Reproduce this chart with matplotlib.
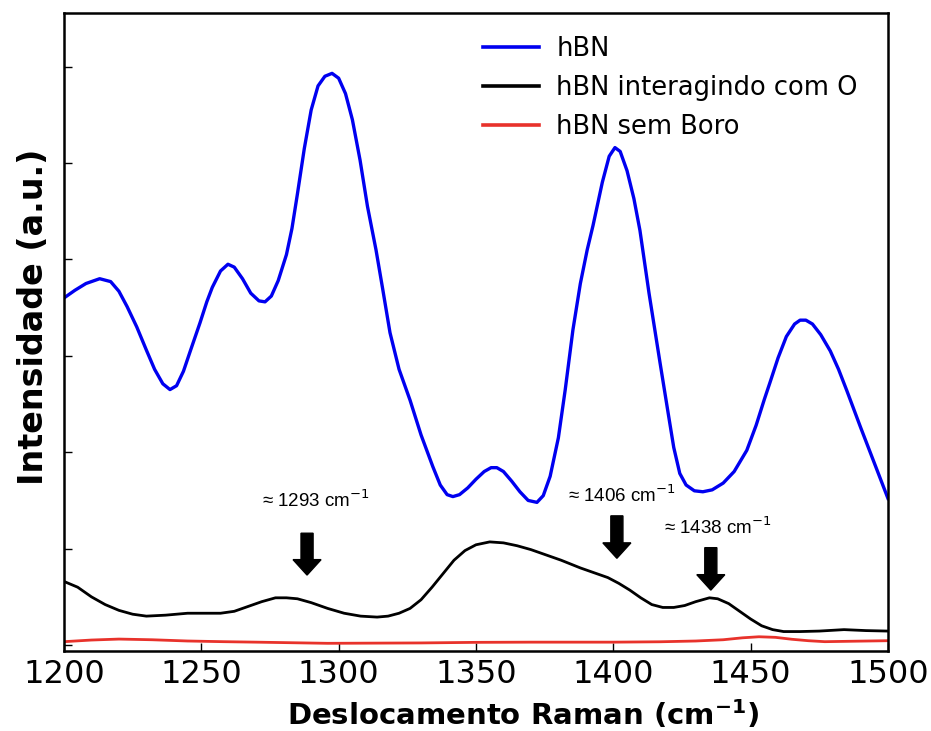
import matplotlib
matplotlib.use('Agg')
import matplotlib.pyplot as plt

# hBN (blue)
hbn_x = [1200, 1204, 1208, 1213, 1217, 1220, 1223, 1226.5, 1230, 1233, 1236, 1238.6, 1241, 1243.5,
         1246, 1249.5, 1252, 1254, 1257, 1259.7, 1262, 1265, 1268, 1271, 1273.2, 1275.5, 1278, 1281,
         1283, 1285, 1287.5, 1290, 1292.5, 1295, 1297.6, 1300, 1302.5, 1305, 1307.8, 1310.5,
         1313.6, 1316, 1318.7, 1322, 1326, 1330, 1334.3, 1337, 1339.5, 1341.6, 1344, 1347, 1350, 1353,
         1355.5, 1357.6, 1360, 1363, 1366, 1369, 1372.2, 1374.5, 1377, 1380, 1382.5, 1385.3, 1388,
         1390.5, 1392.6, 1396, 1398.5, 1400.6, 1402.5, 1405, 1407.5, 1409.7, 1413, 1417, 1420, 1422,
         1424.2, 1426.5, 1429.5, 1432.6, 1436, 1440, 1444, 1448.6, 1452, 1455, 1457, 1460, 1463, 1466,
         1468, 1470.1, 1472.5, 1475.5, 1479, 1482, 1485, 1490, 1495, 1500]
hbn_y = [3.60, 3.68, 3.75, 3.80, 3.77, 3.67, 3.51, 3.30, 3.06, 2.86, 2.71, 2.65, 2.69, 2.84,
         3.05, 3.34, 3.56, 3.71, 3.88, 3.95, 3.92, 3.80, 3.65, 3.57, 3.56, 3.62, 3.78, 4.05,
         4.32, 4.68, 5.15, 5.55, 5.80, 5.90, 5.93, 5.88, 5.72, 5.45, 5.03, 4.55,
         4.10, 3.70, 3.24, 2.86, 2.54, 2.18, 1.85, 1.66, 1.56, 1.54, 1.56, 1.63, 1.72, 1.80,
         1.84, 1.84, 1.80, 1.70, 1.59, 1.50, 1.48, 1.55, 1.75, 2.15, 2.65, 3.27, 3.75,
         4.10, 4.35, 4.80, 5.07, 5.16, 5.12, 4.92, 4.63, 4.30, 3.65, 2.93, 2.40, 2.05,
         1.78, 1.66, 1.60, 1.59, 1.61, 1.68, 1.80, 2.02, 2.28, 2.55, 2.72, 2.98, 3.20, 3.33,
         3.37, 3.37, 3.33, 3.22, 3.05, 2.86, 2.64, 2.26, 1.89, 1.52]

# hBN interagindo com O (black)
hbno_x = [1200, 1205, 1210, 1215, 1220, 1225, 1230, 1237, 1245, 1252, 1257, 1262, 1267, 1272, 1277,
          1281, 1285, 1290, 1296, 1302, 1308, 1314, 1318, 1322, 1326, 1330, 1334, 1338, 1342, 1346,
          1350, 1355, 1360, 1365, 1370, 1375, 1381, 1388, 1393, 1398, 1402, 1406, 1410, 1414, 1418,
          1422, 1426, 1430, 1435, 1438, 1442, 1446, 1450, 1454, 1458, 1462, 1468, 1475, 1484, 1492, 1500]
hbno_y = [0.66, 0.60, 0.50, 0.42, 0.36, 0.32, 0.30, 0.31, 0.33, 0.33, 0.33, 0.35, 0.40, 0.45, 0.49,
          0.49, 0.48, 0.44, 0.38, 0.33, 0.30, 0.29, 0.30, 0.33, 0.38, 0.47, 0.60, 0.74, 0.88, 0.98,
          1.04, 1.07, 1.06, 1.03, 0.99, 0.94, 0.88, 0.80, 0.75, 0.70, 0.64, 0.57, 0.49, 0.42, 0.39,
          0.39, 0.41, 0.45, 0.49, 0.48, 0.43, 0.35, 0.27, 0.20, 0.16, 0.14, 0.14, 0.145, 0.16, 0.15, 0.145]

# hBN sem Boro (red)
hbnb_x = [1200, 1210, 1220, 1232, 1245, 1258, 1270, 1283, 1296, 1313, 1330, 1350, 1370, 1385, 1400,
          1417, 1430, 1440, 1447, 1453, 1459, 1465, 1471, 1477, 1488, 1500]
hbnb_y = [0.035, 0.052, 0.062, 0.055, 0.042, 0.035, 0.03, 0.024, 0.018, 0.02, 0.022, 0.028, 0.03,
          0.03, 0.03, 0.034, 0.042, 0.055, 0.075, 0.086, 0.08, 0.06, 0.045, 0.035, 0.04, 0.045]

peak_labels = ['1293', '1406', '1438']

fig = plt.figure(figsize=(9.31, 7.31), dpi=100)
ax = fig.add_axes([0.0687, 0.1094, 0.8851, 0.8728])

ax.plot(hbn_x, hbn_y, color='#0000f0', lw=2.4, label='hBN')
ax.plot(hbno_x, hbno_y, color='black', lw=2.0, label='hBN interagindo com O')
ax.plot(hbnb_x, hbnb_y, color='#e8322b', lw=2.0, label='hBN sem Boro')

ax.set_xlim(1200, 1500)
ax.set_ylim(-0.062, 6.556)
ax.set_xticks([1200, 1250, 1300, 1350, 1400, 1450, 1500])
ax.set_yticks(range(7))
ax.set_yticklabels([])
ax.tick_params(axis='x', direction='in', length=6, width=1, labelsize=23, pad=6)
ax.tick_params(axis='y', direction='in', length=6, width=1)
for s in ax.spines.values():
    s.set_linewidth(1.8)

ax.set_xlabel(r'Deslocamento Raman (cm$^{\mathbf{-1}}$)', fontsize=21, fontweight='bold')
ax.xaxis.set_label_coords(0.557, -0.073)
ax.set_ylabel('Intensidade (a.u.)', fontsize=24, fontweight='bold')
ax.yaxis.set_label_coords(-0.017, 0.5235)

leg = ax.legend(loc='upper left', bbox_to_anchor=(0.496, 0.980), frameon=False, fontsize=18.5,
                handlelength=2.2, handletextpad=0.66, labelspacing=0.5, borderaxespad=0)
for h in leg.get_lines():
    h.set_linewidth(2.6)

# annotations: text position and arrow (x, top, tip)
ann_text = [(1291.7, 1.50), (1403.1, 1.55), (1438.1, 1.22)]
ann_arrow = [(1288.5, 1.16, 0.726), (1401.3, 1.34, 0.90), (1435.5, 1.01, 0.57)]
for lab, (tx, ty), (axx, a0, a1) in zip(peak_labels, ann_text, ann_arrow):
    ax.text(tx, ty, '≈ ' + lab + r' cm$^{-1}$', ha='center', va='center', fontsize=13.5,
            family=['Liberation Sans', 'DejaVu Sans'])
    ax.arrow(axx, a0, 0, a1 - a0, width=4.4, head_width=10.2, head_length=0.16,
             length_includes_head=True, color='black')

fig.savefig('out.png', dpi=100)
